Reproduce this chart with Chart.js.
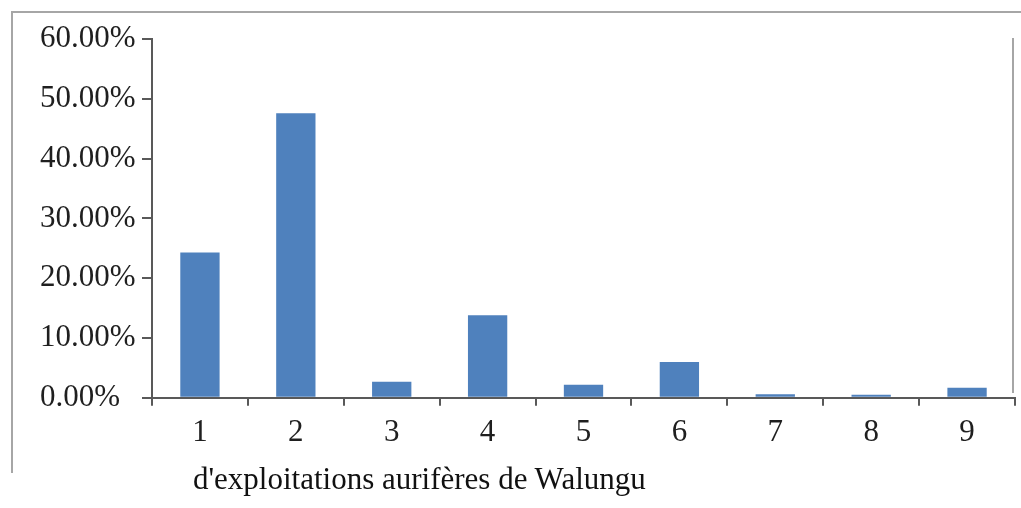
<!DOCTYPE html>
<html>
<head>
<meta charset="utf-8">
<script src="https://cdn.jsdelivr.net/npm/chart.js@4"></script>
<style>
  html, body { margin: 0; padding: 0; background: #fff; }
  #wrap { position: relative; width: 1021px; height: 508px; overflow: hidden; }
  #c { position: absolute; left: 0; top: 0; }
  .frame { position: absolute; background: #a6a6a6; }
  #caption { position: absolute; left: 193px; top: 461px; font-family: "Liberation Serif", "Times New Roman", serif; font-size: 31px; color: #111; white-space: nowrap; line-height: 36px; }
</style>
</head>
<body>
<div id="wrap">
  <canvas id="c" width="1021" height="508"></canvas>
  <div class="frame" style="left:11px; top:11px; width:1010px; height:2px;"></div>
  <div class="frame" style="left:11px; top:11px; width:2px; height:462px;"></div>
  <div class="frame" style="left:1012px; top:38px; width:2px; height:355px;"></div>
  <div id="caption">d'exploitations aurifères de Walungu</div>
</div>
<script>
const categories = ["1", "2", "3", "4", "5", "6", "7", "8", "9"];
const values = [24.3, 47.6, 2.7, 13.8, 2.2, 6.0, 0.6, 0.5, 1.7];
const yTicks = [0, 10, 20, 30, 40, 50, 60];

const axisColor = "#595959";
const labelFont = { family: "'Liberation Serif', 'Times New Roman', serif", size: 31 };

new Chart(document.getElementById("c"), {
  type: "bar",
  data: {
    labels: categories,
    datasets: [{
      data: values,
      backgroundColor: "#4f81bd",
      borderWidth: 0,
      barPercentage: 0.41,
      categoryPercentage: 1.0
    }]
  },
  options: {
    responsive: false,
    animation: false,
    devicePixelRatio: 1,
    layout: { padding: { left: 40, right: 6, top: 39, bottom: 49 } },
    plugins: { legend: { display: false }, tooltip: { enabled: false }, title: { display: false } },
    scales: {
      x: {
        grid: { offset: true, drawOnChartArea: false, drawTicks: true, tickLength: 8, color: axisColor, lineWidth: 2 },
        border: { color: axisColor, width: 2 },
        ticks: { font: labelFont, color: "#1f1f1f", padding: 8, maxRotation: 0 }
      },
      y: {
        min: 0,
        max: 60,
        afterBuildTicks: (scale) => { scale.ticks = yTicks.map(v => ({ value: v })); },
        afterFit: (scale) => { scale.width = 112; },
        grid: { drawOnChartArea: false, drawTicks: true, tickLength: 10, color: axisColor, lineWidth: 2 },
        border: { color: axisColor, width: 2 },
        ticks: {
          font: labelFont,
          color: "#1f1f1f",
          padding: 2,
          crossAlign: "far",
          callback: (v) => Number(v).toFixed(2) + "%"
        }
      }
    }
  }
});
</script>
</body>
</html>
